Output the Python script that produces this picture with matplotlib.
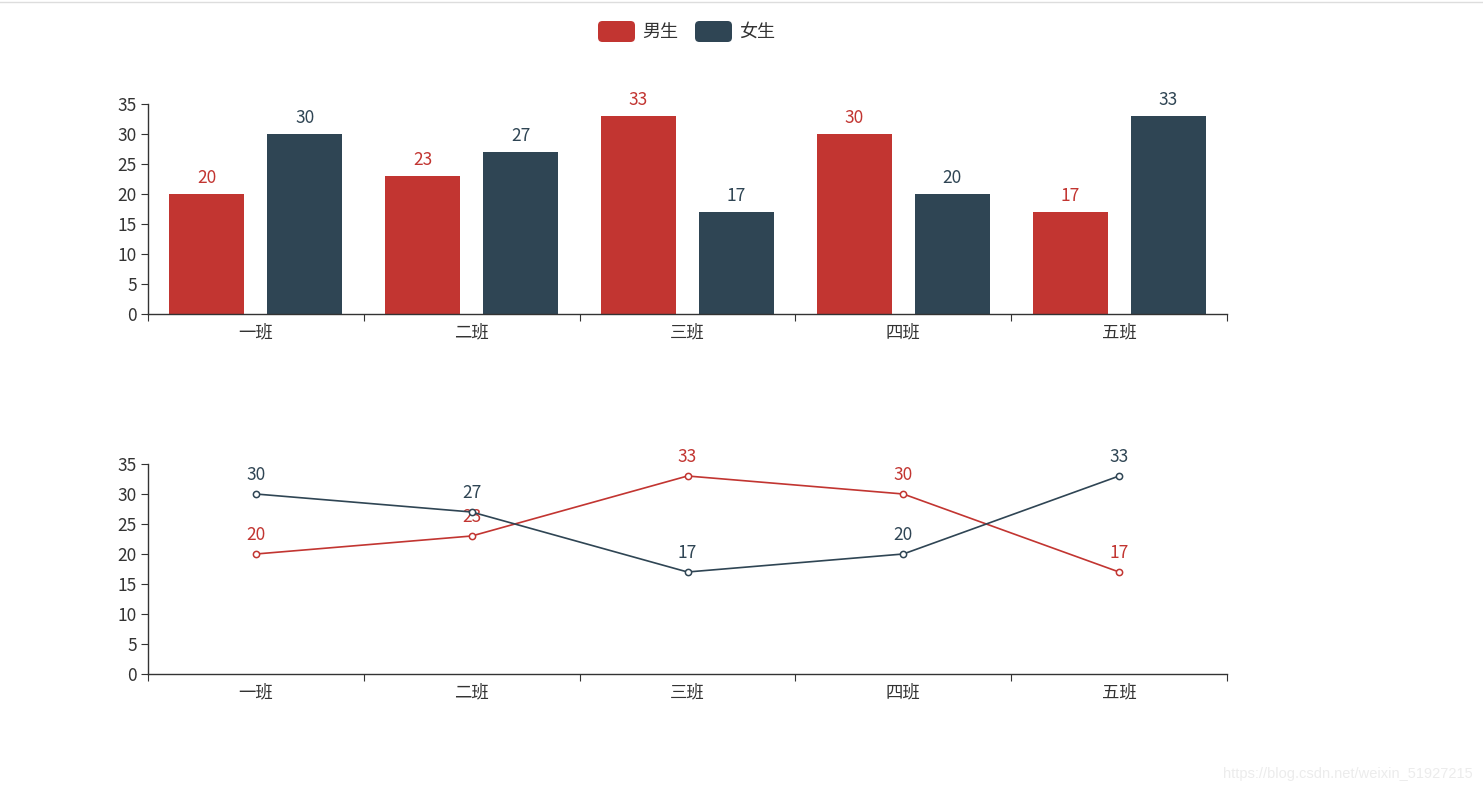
import matplotlib
matplotlib.use("Agg")
from matplotlib import pyplot as plt
from matplotlib.patches import FancyBboxPatch
from matplotlib.lines import Line2D
import numpy as np

plt.rcParams['font.family'] = ['Noto Sans CJK SC', 'DejaVu Sans']
plt.rcParams['axes.unicode_minus'] = False

classes = ['一班', '二班', '三班', '四班', '五班']
boys = [20, 23, 33, 30, 17]
girls = [30, 27, 17, 20, 33]
series_names = ['男生', '女生']
colors = ['#c23531', '#2f4554']
axis_color = '#333333'

W, H = 1483, 793
fig = plt.figure(figsize=(W / 100, H / 100), dpi=100)


def px_rect(x0, y0, x1, y1):
    # 像素框（左上为原点）-> figure 比例坐标
    return [x0 / W, 1 - y1 / H, (x1 - x0) / W, (y1 - y0) / H]


def style_axis(ax):
    ax.set_xlim(0, 5)
    ax.set_ylim(0, 35)
    for s in ['top', 'right']:
        ax.spines[s].set_visible(False)
    for s in ['left', 'bottom']:
        ax.spines[s].set_color(axis_color)
        ax.spines[s].set_linewidth(1)
    ax.set_yticks(range(0, 36, 5))
    ax.set_xticks(range(6))
    ax.set_xticklabels([])
    ax.set_xticks(np.arange(5) + 0.5, minor=True)
    ax.set_xticklabels(classes, minor=True)
    ax.tick_params(axis='x', which='major', length=5, color=axis_color, direction='out')
    ax.tick_params(axis='x', which='minor', length=0, pad=7, labelsize=12.5, labelcolor=axis_color)
    ax.tick_params(axis='y', length=5, color=axis_color, labelsize=12.5, labelcolor=axis_color, pad=3)
    ax.patch.set_alpha(0)


x = np.arange(len(classes)) + 0.5

# 柱状图
ax1 = fig.add_axes(px_rect(148, 104, 1227, 314))
style_axis(ax1)
bw = 0.3475
off = 0.227
for vals, c, d in [(boys, colors[0], -off), (girls, colors[1], off)]:
    bars = ax1.bar(x + d, vals, width=bw, color=c, zorder=2)
    for b, v in zip(bars, vals):
        ax1.annotate(str(v), (b.get_x() + b.get_width() / 2, v), xytext=(0, 5),
                     textcoords='offset points', ha='center', va='bottom',
                     color=c, fontsize=12.5)

# 折线图
ax2 = fig.add_axes(px_rect(148, 464, 1227, 674))
style_axis(ax2)
for vals, c in [(boys, colors[0]), (girls, colors[1])]:
    ax2.plot(x, vals, color=c, lw=1.2, marker='o', ms=4.5, mfc='white',
             mec=c, mew=1.1, zorder=3, clip_on=False)
    for xi, v in zip(x, vals):
        ax2.annotate(str(v), (xi, v), xytext=(0, 7), textcoords='offset points',
                     ha='center', va='bottom', color=c, fontsize=12.5)

# 图例
legend_items = [(598, series_names[0], colors[0]), (695, series_names[1], colors[1])]
for lx, name, c in legend_items:
    r = px_rect(lx, 21, lx + 37, 42)
    box = FancyBboxPatch((r[0], r[1]), r[2], r[3], boxstyle='round,pad=0,rounding_size=0.003',
                         transform=fig.transFigure, facecolor=c, edgecolor='none',
                         mutation_aspect=W / H)
    fig.patches.append(box)
    fig.text((lx + 44) / W, 1 - 31.5 / H, name, ha='left', va='center',
             fontsize=13, color=axis_color)

# 顶部分隔线与水印
fig.add_artist(Line2D([0, 1], [1 - 1.5 / H, 1 - 1.5 / H], transform=fig.transFigure,
                      color='#dddddd', lw=1))
fig.text(1473 / W, 1 - 774 / H, 'https://blog.csdn.net/weixin_51927215', ha='right',
         va='center', fontsize=10.5, color='#ececec', family=['Liberation Sans'])

fig.savefig('out.png', dpi=100)
